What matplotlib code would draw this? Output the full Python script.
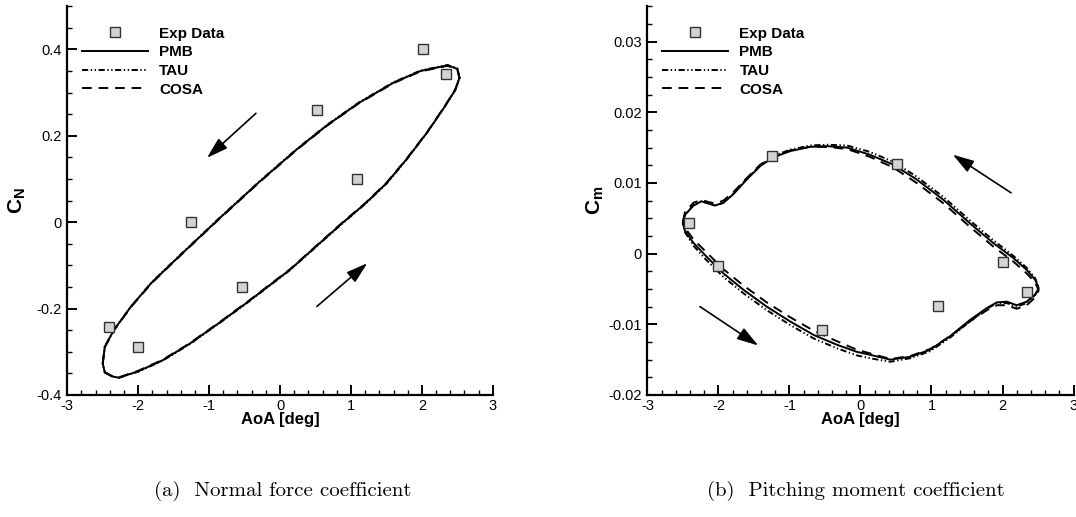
import matplotlib
matplotlib.use("Agg")
import matplotlib.pyplot as plt
from matplotlib.ticker import MultipleLocator, FuncFormatter

plt.rcParams['font.family'] = ['Liberation Sans', 'DejaVu Sans']
plt.rcParams['axes.unicode_minus'] = False
plt.rcParams['mathtext.fontset'] = 'custom'
plt.rcParams['mathtext.rm'] = 'Liberation Sans'
plt.rcParams['mathtext.bf'] = 'Liberation Sans:bold'
plt.rcParams['mathtext.it'] = 'Liberation Sans:italic'

# experimental points
exp_aoa = [-2.41, -2.00, -1.25, -0.54, 0.52, 1.09, 2.01, 2.34]
exp_cn = [-0.242, -0.290, 0.000, -0.151, 0.260, 0.101, 0.400, 0.344]
exp_cm = [0.0044, -0.0017, 0.0138, -0.0108, 0.0127, -0.0074, -0.0012, -0.0055]

# normal force loop (all three codes lie on top of each other)
aoa_n = [2.53, 2.50, 2.36, 1.98, 1.60, 1.11, 0.66, 0.24, -0.28, -0.84, -1.41,
         -1.81, -2.10, -2.34, -2.47, -2.50, -2.47, -2.37, -2.27,
         -2.00, -1.66, -1.28, -0.84, -0.45, 0.14, 0.85, 1.20, 1.50, 1.79,
         2.08, 2.32, 2.47, 2.53]
cn_pmb = [0.334, 0.355, 0.363, 0.350, 0.323, 0.276, 0.224, 0.169, 0.095, 0.011,
          -0.077, -0.140, -0.195, -0.249, -0.288, -0.327, -0.348, -0.357, -0.360,
          -0.345, -0.320, -0.282, -0.231, -0.184, -0.110, -0.006, 0.043, 0.090,
          0.147, 0.209, 0.267, 0.306, 0.334]
cn_tau = [0.334, 0.356, 0.364, 0.351, 0.324, 0.277, 0.225, 0.170, 0.096, 0.012,
          -0.076, -0.139, -0.195, -0.249, -0.288, -0.327, -0.348, -0.357, -0.360,
          -0.346, -0.321, -0.283, -0.232, -0.185, -0.111, -0.007, 0.042, 0.089,
          0.146, 0.209, 0.267, 0.306, 0.334]
cn_cosa = [0.333, 0.354, 0.362, 0.349, 0.322, 0.275, 0.223, 0.168, 0.094, 0.010,
           -0.078, -0.141, -0.196, -0.250, -0.289, -0.327, -0.347, -0.356, -0.359,
           -0.344, -0.319, -0.281, -0.230, -0.183, -0.109, -0.005, 0.044, 0.091,
           0.148, 0.210, 0.268, 0.307, 0.333]

# pitching moment loop
aoa_m = [-2.50, -2.47, -2.35, -2.24, -2.14, -2.05, -1.93, -1.79, -1.60, -1.41,
         -1.23, -0.99, -0.71, -0.47, -0.19, 0.13, 0.46, 0.79, 1.17, 1.54, 1.87,
         2.15, 2.34, 2.46, 2.51,
         2.46, 2.34, 2.20, 2.06, 1.92, 1.78, 1.54, 1.26, 0.98, 0.70, 0.42, 0.13,
         -0.05, -0.33, -0.66, -0.99, -1.32, -1.65, -1.93, -2.17, -2.35, -2.47,
         -2.50]
cm_pmb = [0.0043, 0.0055, 0.0068, 0.0074, 0.0071, 0.0068, 0.0072, 0.0084, 0.0105,
          0.0124, 0.0136, 0.0145, 0.0151, 0.0152, 0.0150, 0.0140, 0.0126, 0.0105,
          0.0076, 0.0043, 0.0015, -0.0006, -0.0023, -0.0037, -0.0049,
          -0.0058, -0.0068, -0.0073, -0.0068, -0.0069, -0.0077, -0.0094, -0.0117,
          -0.0136, -0.0146, -0.0150, -0.0143, -0.0139, -0.0129, -0.0115, -0.0096,
          -0.0075, -0.0051, -0.0028, -0.0004, 0.0015, 0.0032, 0.0043]
cm_tau = [0.0042, 0.0055, 0.0069, 0.0074, 0.0071, 0.0068, 0.0072, 0.0085, 0.0106,
          0.0125, 0.0138, 0.0147, 0.0153, 0.0154, 0.0153, 0.0144, 0.0130, 0.0109,
          0.0080, 0.0047, 0.0019, -0.0003, -0.0020, -0.0035, -0.0048,
          -0.0058, -0.0070, -0.0075, -0.0070, -0.0070, -0.0078, -0.0096, -0.0119,
          -0.0138, -0.0148, -0.0153, -0.0148, -0.0144, -0.0134, -0.0120, -0.0101,
          -0.0080, -0.0056, -0.0033, -0.0009, 0.0011, 0.0030, 0.0042]
cm_cosa = [0.0046, 0.0059, 0.0072, 0.0076, 0.0073, 0.0071, 0.0075, 0.0087, 0.0107,
           0.0126, 0.0137, 0.0146, 0.0151, 0.0151, 0.0148, 0.0137, 0.0122, 0.0100,
           0.0071, 0.0038, 0.0010, -0.0011, -0.0028, -0.0041, -0.0052,
           -0.0062, -0.0073, -0.0078, -0.0073, -0.0073, -0.0080, -0.0096, -0.0117,
           -0.0135, -0.0145, -0.0149, -0.0141, -0.0136, -0.0124, -0.0109, -0.0090,
           -0.0069, -0.0045, -0.0022, 0.0002, 0.0020, 0.0036, 0.0046]

# direction arrows (tail, head) in data units
arrows_cn = [((-0.34, 0.252), (-1.03, 0.149)), ((0.52, -0.195), (1.23, -0.095))]
arrows_cm = [((2.12, 0.0086), (1.30, 0.0140)), ((-2.26, -0.0075), (-1.44, -0.0130))]

tau_dash = (0, (3.2, 1.3, 0.7, 1.3, 0.7, 1.3))
cosa_dash = (0, (5, 3.5))


def fmt(v, pos):
    return '%g' % round(v, 6)


def draw(ax, c_pmb, c_tau, c_cosa, ce, aoa, arrows, ylabel, ylim, major, minor, lpad):
    ax.plot(aoa, c_pmb, color='k', lw=1.4, label='PMB', zorder=3)
    ax.plot(aoa, c_tau, color='k', lw=1.4, ls=tau_dash, label='TAU', zorder=3)
    ax.plot(aoa, c_cosa, color='k', lw=1.4, ls=cosa_dash, label='COSA', zorder=3)
    ax.plot(exp_aoa, ce, ls='none', marker='s', ms=7.5, mfc='#d3d3d3',
            mec='#333333', mew=1.0, label='Exp Data', zorder=4)
    for tail, head in arrows:
        ax.annotate('', xy=head, xytext=tail,
                    arrowprops=dict(arrowstyle='-|>,head_length=0.65,head_width=0.2',
                                    color='k', lw=1.2, mutation_scale=20,
                                    shrinkA=0, shrinkB=0))
    ax.set_xlim(-3, 3)
    ax.set_ylim(*ylim)
    ax.xaxis.set_major_locator(MultipleLocator(1))
    ax.xaxis.set_minor_locator(MultipleLocator(0.2))
    ax.yaxis.set_major_locator(MultipleLocator(major))
    ax.yaxis.set_minor_locator(MultipleLocator(minor))
    ax.xaxis.set_major_formatter(FuncFormatter(fmt))
    ax.yaxis.set_major_formatter(FuncFormatter(fmt))
    for s in ['top', 'right']:
        ax.spines[s].set_visible(False)
    for s in ['left', 'bottom']:
        ax.spines[s].set_linewidth(1.6)
    ax.tick_params(which='both', direction='in', top=False, right=False,
                   labelsize=10.5, pad=4)
    ax.tick_params(axis='x', pad=3)
    ax.tick_params(which='major', length=7, width=1.4)
    ax.tick_params(which='minor', length=3.6, width=1.0)
    ax.set_xlabel('AoA [deg]', fontsize=12, fontweight='bold', labelpad=-1)
    ax.set_ylabel(ylabel, fontsize=15, labelpad=lpad)

    h, l = ax.get_legend_handles_labels()
    order = [3, 0, 1, 2]
    ax.legend([h[i] for i in order], [l[i] for i in order], loc='upper left',
              bbox_to_anchor=(0.035, 0.947), frameon=False, handlelength=4.3,
              handletextpad=0.75, labelspacing=0.3, borderpad=0, borderaxespad=0,
              prop={'weight': 'bold', 'size': 11})


fig = plt.figure(figsize=(10.76, 5.17), dpi=100)
ax1 = fig.add_axes([0.0625, 0.236, 0.3955, 0.752])
ax2 = fig.add_axes([0.6017, 0.236, 0.3960, 0.752])

draw(ax1, cn_pmb, cn_tau, cn_cosa, exp_cn, aoa_n, arrows_cn,
     r'$\mathbf{C_N}$', (-0.4, 0.5), 0.2, 0.05, 6)
draw(ax2, cm_pmb, cm_tau, cm_cosa, exp_cm, aoa_m, arrows_cm,
     r'$\mathbf{C_m}$', (-0.02, 0.035), 0.01, 0.0025, 2)

fig.text(0.263, 0.05, '(a)  Normal force coefficient', family='cmr10',
         fontsize=15, ha='center', va='center')
fig.text(0.7955, 0.05, '(b)  Pitching moment coefficient', family='cmr10',
         fontsize=15, ha='center', va='center')

fig.savefig('out.png', dpi=100)
